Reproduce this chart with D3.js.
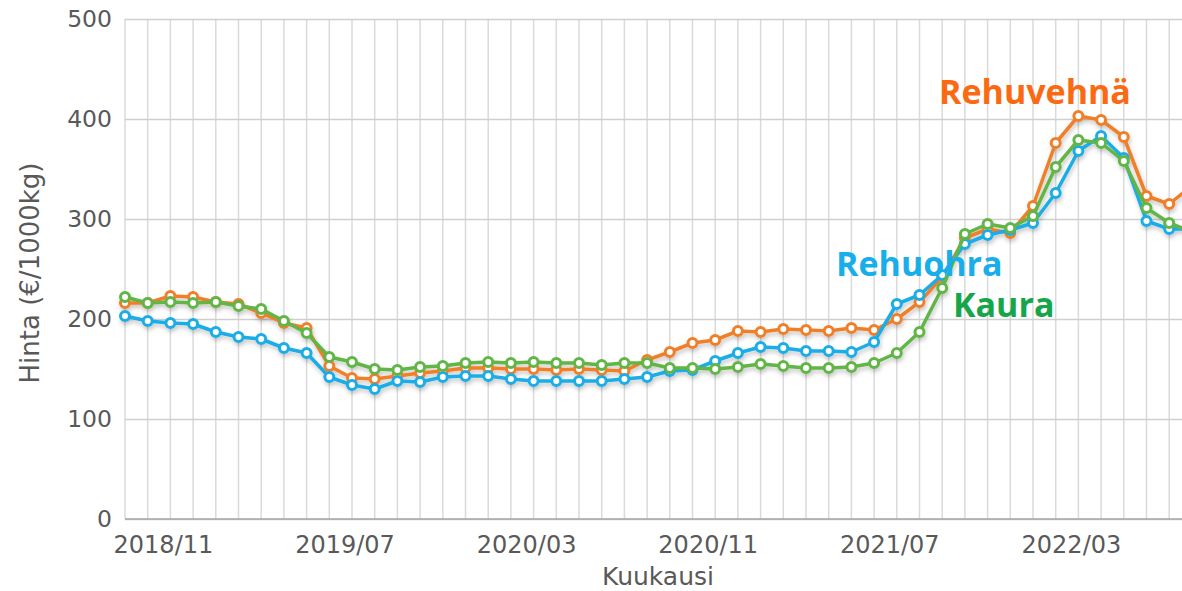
<!DOCTYPE html>
<html>
<head>
<meta charset="utf-8">
<script src="https://cdn.jsdelivr.net/npm/d3@7"></script>
<style>
  body { margin: 0; background: #fff; }
  text { font-family: "DejaVu Sans", Verdana, sans-serif; fill: #595959; }
</style>
</head>
<body>
<svg width="1182" height="591"></svg>
<script>
// months on the x axis (one point per month)
var months = ["2018/09","2018/10","2018/11","2018/12",
  "2019/01","2019/02","2019/03","2019/04","2019/05","2019/06","2019/07","2019/08","2019/09","2019/10","2019/11","2019/12",
  "2020/01","2020/02","2020/03","2020/04","2020/05","2020/06","2020/07","2020/08","2020/09","2020/10","2020/11","2020/12",
  "2021/01","2021/02","2021/03","2021/04","2021/05","2021/06","2021/07","2021/08","2021/09","2021/10","2021/11","2021/12",
  "2022/01","2022/02","2022/03","2022/04","2022/05","2022/06","2022/07","2022/08"];

var tickMonths = ["2018/11","2019/07","2020/03","2020/11","2021/07","2022/03"];
var yTicks = [0, 100, 200, 300, 400, 500];

// prices €/1000kg
var rehuvehna = [216,216,223,222,217,215,206,196,191,153,141,140,143,146,148,151,
  151,150,150,149,150,149,148,159,167,176,179,188,187,190,189,188,
  191,189,200,217,242,281,290,286,313,376,403,399,382,323,315,333];
var rehuohra = [203,198,196,195,187,182,180,171,166,142,134,130,138,137,142,143,
  143,140,138,138,138,138,140,142,148,149,158,166,172,171,168,168,
  167,177,215,224,244,275,284,289,296,326,368,383,361,298,290,290];
var kaura = [222,216,217,216,217,213,210,198,186,162,157,150,149,152,153,156,
  157,156,157,156,156,154,156,156,151,151,150,152,155,153,151,151,
  152,156,166,187,231,285,295,291,303,352,379,376,358,311,296,287];

var series = [
  {name: "vehna", values: rehuvehna, color: "#f07f2a"},
  {name: "ohra",  values: rehuohra,  color: "#1aade6"},
  {name: "kaura", values: kaura,     color: "#62b546"}
];

var svg = d3.select("svg");
var plotLeft = 125, plotTop = 19, plotBottom = 519;
var step = 22.7;

var x = d3.scalePoint()
    .domain(months)
    .range([plotLeft, plotLeft + step * (months.length - 1)]);
var y = d3.scaleLinear()
    .domain([0, 500])
    .range([plotBottom, plotTop]);

// shadow under lines
var defs = svg.append("defs");
var f = defs.append("filter").attr("id", "shadow")
    .attr("x", "-5%").attr("y", "-20%").attr("width", "110%").attr("height", "140%");
f.append("feDropShadow").attr("dx", 1).attr("dy", 3).attr("stdDeviation", 2)
    .attr("flood-color", "#000").attr("flood-opacity", 0.22);

// vertical grid, one line a month
svg.append("g")
  .selectAll("line")
  .data(months)
  .enter().append("line")
    .attr("x1", function(d){ return x(d) })
    .attr("x2", function(d){ return x(d) })
    .attr("y1", y(500))
    .attr("y2", y(0))
    .attr("stroke", "#dadada")
    .attr("stroke-width", 1.5);

// horizontal grid + y labels
var yAxis = svg.append("g")
    .attr("transform", "translate(" + plotLeft + ",0)")
    .call(d3.axisLeft(y).tickValues(yTicks).tickSize(-1182).tickPadding(13));
yAxis.select(".domain").remove();
yAxis.selectAll("line").attr("stroke", "#cfcfcf").attr("stroke-width", 1.5);
yAxis.selectAll("text").style("font-size", "23.5px").attr("fill", "#595959")
    .attr("font-family", "DejaVu Sans, Verdana, sans-serif");

// bottom axis line
svg.append("line")
    .attr("x1", plotLeft).attr("x2", 1182)
    .attr("y1", y(0)).attr("y2", y(0))
    .attr("stroke", "#a6a6a6").attr("stroke-width", 1.5);

// x labels
svg.append("g")
  .selectAll("text")
  .data(tickMonths)
  .enter().append("text")
    .attr("x", function(d){ return x(d) - 7 })
    .attr("y", 553)
    .attr("text-anchor", "middle")
    .style("font-size", "24px")
    .text(function(d){ return d });

// axis titles
svg.append("text")
    .attr("x", 658).attr("y", 585)
    .attr("text-anchor", "middle")
    .style("font-size", "25px")
    .text("Kuukausi");
svg.append("text")
    .attr("transform", "translate(39,273) rotate(-90)")
    .attr("text-anchor", "middle")
    .style("font-size", "26px")
    .text("Hinta (€/1000kg)");

// lines
var line = d3.line()
    .x(function(d, i){ return x(months[i]) })
    .y(function(d){ return y(d) });

var g = svg.append("g").attr("filter", "url(#shadow)");
series.forEach(function(s){
  g.append("path")
    .datum(s.values)
    .attr("d", line)
    .attr("fill", "none")
    .attr("stroke", s.color)
    .attr("stroke-width", 3.5)
    .attr("stroke-linejoin", "round");
  g.selectAll(".pt-" + s.name)
    .data(s.values)
    .enter().append("circle")
      .attr("class", "pt-" + s.name)
      .attr("cx", function(d, i){ return x(months[i]) })
      .attr("cy", function(d){ return y(d) })
      .attr("r", 4.5)
      .attr("fill", "#fff")
      .attr("stroke", s.color)
      .attr("stroke-width", 3);
});

// series names
var labels = [
  {text: "Rehuvehnä", x: 939, y: 104, color: "#fb6a12"},
  {text: "Rehuohra",  x: 836, y: 276, color: "#17aeea"},
  {text: "Kaura",     x: 953, y: 317, color: "#16a64a"}
];
svg.selectAll(".lab")
  .data(labels)
  .enter().append("text")
    .attr("class", "lab")
    .attr("x", function(d){ return d.x })
    .attr("y", function(d){ return d.y })
    .style("font-family", "'Open Sans', sans-serif")
    .style("font-weight", "bold")
    .style("font-size", "34px")
    .style("fill", function(d){ return d.color })
    .text(function(d){ return d.text });
</script>
</body>
</html>
